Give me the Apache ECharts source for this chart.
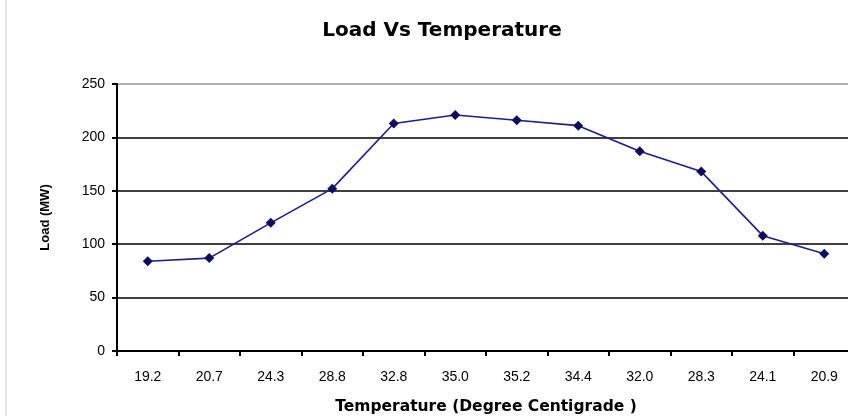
<!DOCTYPE html>
<html>
<head>
<meta charset="utf-8">
<script src="https://cdn.jsdelivr.net/npm/echarts@6/dist/echarts.min.js"></script>
<style>
  html, body { margin: 0; padding: 0; background: #fff; }
  #chart { width: 848px; height: 416px; }
</style>
</head>
<body>
<div id="chart"></div>
<script>
  // 数据
  const temperatures = ['19.2', '20.7', '24.3', '28.8', '32.8', '35.0', '35.2', '34.4', '32.0', '28.3', '24.1', '20.9'];
  const loads = [84, 87, 120, 152, 213, 221, 216, 211, 187, 168, 108, 91];
  const yTicks = { min: 0, max: 250, interval: 50 };

  const font = '"Liberation Sans", Arial, sans-serif';
  const heavyFont = '"DejaVu Sans", Verdana, sans-serif';

  let myChart = echarts.init(document.getElementById('chart'));

  let option = {
    animation: false,
    title: {
      text: 'Load Vs Temperature',
      left: 437,
      textAlign: 'center',
      top: 16,
      textStyle: { fontFamily: heavyFont, fontSize: 20, fontWeight: 'bold', color: '#000' }
    },
    graphic: [{
      type: 'line',
      shape: { x1: 6, y1: 0, x2: 6, y2: 416 },
      style: { stroke: '#ccc', lineWidth: 1 }
    }],
    // 图表区右侧超出画布
    grid: { left: 117, right: -7, top: 84, bottom: 65, outerBoundsMode: 'none' },
    xAxis: {
      type: 'category',
      data: temperatures,
      boundaryGap: true,
      name: 'Temperature (Degree Centigrade )',
      nameLocation: 'middle',
      nameGap: 48,
      nameTextStyle: { fontFamily: heavyFont, fontSize: 15.5, fontWeight: 'bold', color: '#000' },
      axisLine: { lineStyle: { color: '#000', width: 2 } },
      axisTick: { show: true, length: 5, lineStyle: { color: '#000', width: 2 } },
      axisLabel: { fontFamily: font, fontSize: 14, color: '#000', margin: 19 }
    },
    yAxis: {
      type: 'value',
      min: yTicks.min,
      max: yTicks.max,
      interval: yTicks.interval,
      name: 'Load (MW)',
      nameLocation: 'middle',
      nameGap: 65,
      nameTextStyle: { fontFamily: font, fontSize: 13, fontWeight: 'bold', color: '#000' },
      axisLine: { show: true, lineStyle: { color: '#000', width: 2 } },
      axisTick: { show: true, length: 5, lineStyle: { color: '#000', width: 2 } },
      axisLabel: { fontFamily: font, fontSize: 14, color: '#000', margin: 12 },
      splitLine: {
        lineStyle: { color: ['#000', '#000', '#000', '#000', '#000', '#999'], width: 1.5 }
      }
    },
    series: [{
      type: 'line',
      data: loads,
      symbol: 'diamond',
      symbolSize: 10,
      lineStyle: { color: '#1c1c94', width: 1.6 },
      itemStyle: { color: '#0d0d5e' }
    }]
  };

  myChart.setOption(option);
</script>
</body>
</html>
